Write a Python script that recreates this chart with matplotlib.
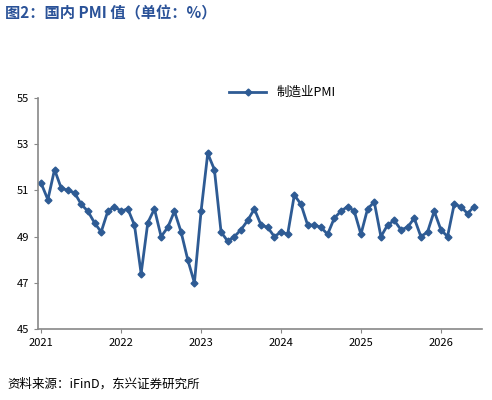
import numpy as np
import matplotlib.pyplot as plt

plt.rcParams['font.family'] = ['Noto Sans CJK SC', 'DejaVu Sans']

# monthly PMI, 2021-01 .. 2026-06
pmi = [51.3, 50.6, 51.9, 51.1, 51.0, 50.9, 50.4, 50.1, 49.6, 49.2, 50.1, 50.3,
       50.1, 50.2, 49.5, 47.4, 49.6, 50.2, 49.0, 49.4, 50.1, 49.2, 48.0, 47.0,
       50.1, 52.6, 51.9, 49.2, 48.8, 49.0, 49.3, 49.7, 50.2, 49.5, 49.4, 49.0,
       49.2, 49.1, 50.8, 50.4, 49.5, 49.5, 49.4, 49.1, 49.8, 50.1, 50.3, 50.1,
       49.1, 50.2, 50.5, 49.0, 49.5, 49.7, 49.3, 49.4, 49.8, 49.0, 49.2, 50.1,
       49.3, 49.0, 50.4, 50.3, 50.0, 50.3]
years = ['2021', '2022', '2023', '2024', '2025', '2026']
yticks = [45, 47, 49, 51, 53, 55]

color = '#2e5b94'
fig = plt.figure(figsize=(4.92, 4.0), dpi=100)
ax = fig.add_axes([0.077, 0.1775, 0.903, 0.5775])
x = np.arange(len(pmi))
ax.plot(x, pmi, color=color, lw=2, marker='D', ms=3.5, label='制造业PMI')

ax.set_xlim(-0.5, 66.2)
ax.set_ylim(45, 55)
ax.set_yticks(yticks)
ax.set_xticks(np.arange(len(years)) * 12)
ax.set_xticklabels(years)
for s in ['top', 'right']:
    ax.spines[s].set_visible(False)
for s in ['left', 'bottom']:
    ax.spines[s].set_color('#888888')
    ax.spines[s].set_linewidth(1.2)
ax.tick_params(labelsize=8, color='#888888', length=3)
ax.legend(loc='upper center', bbox_to_anchor=(0.55, 1.1), frameon=False,
          fontsize=9, handlelength=3)

fig.text(0.01, 0.955, '图2：国内 PMI 值（单位：%）', fontsize=11, fontweight='bold',
         color='#2a5298')
fig.text(0.015, 0.03, '资料来源：iFinD，东兴证券研究所', fontsize=9, style='italic')
fig.savefig('out.png', dpi=100)
